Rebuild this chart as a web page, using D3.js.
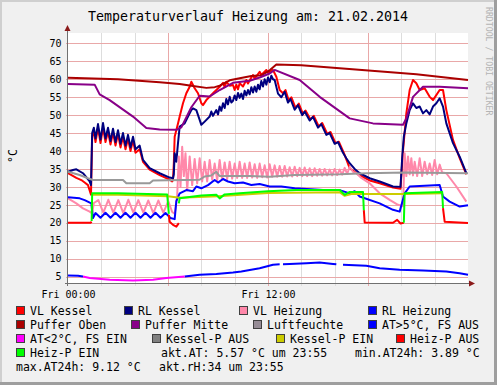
<!DOCTYPE html>
<html>
<head>
<meta charset="utf-8">
<script src="https://cdnjs.cloudflare.com/ajax/libs/d3/7.8.5/d3.min.js"></script>
<style>
body { margin: 0; background: #f0f0f0; }
svg { display: block; }
text { font-family: 'DejaVu Sans Mono', monospace; fill: #000; }
</style>
</head>
<body>
<svg id="canvas" width="497" height="385"></svg>
<script>
'use strict';

// hours since Fri 00:00, value
var vlKessel = [
  [0,33.8],[0.5,32.5],[0.8,31.9],[1.0,31.2],[1.2,30.5],[1.38,27.8],[1.45,44],[1.55,45.5],[1.65,42.5],
  [1.8,46.5],[1.95,42.2],[2.1,46.5],[2.25,42.5],[2.4,45.5],[2.55,41.8],[2.7,45.2],[2.85,41.5],[3.0,44.8],
  [3.15,41],[3.3,44],[3.45,40.5],[3.6,43.5],[3.75,40],[3.9,43],[4.05,39.5],[4.3,40.5],[4.5,37],[4.9,34.8],
  [5.5,33.3],[6.1,32],[6.25,31.5],[6.3,31.9],[6.35,36.6],[6.4,44.0],[6.6,47.7],[6.7,49.6],[6.9,53.3],
  [7.1,56.1],[7.3,57.9],[7.4,59.3],[7.6,57.5],[7.8,56.1],[8.0,53.3],[8.1,52.8],[8.3,54.2],[8.7,56.1],
  [9.1,57.9],[9.3,59],[9.4,57.8],[9.5,59.3],[9.7,58.2],[9.9,58.4],[10.0,57],[10.1,58.5],[10.2,57.2],
  [10.3,58.9],[10.5,58],[10.7,59.8],[10.8,58.8],[11.0,60.5],[11.1,61.2],[11.2,60.2],[11.5,62.1],
  [11.6,61.2],[11.9,62.6],[12.0,61.8],[12.3,62.6],[12.5,60.7],[12.7,57],[12.9,56.1],[13.05,57],
  [13.25,54],[13.4,55],[13.65,52],[13.85,53.2],[14.1,50.3],[14.25,51.3],[14.55,48.8],[14.75,49.8],
  [15.05,46.8],[15.25,47.8],[15.55,44.8],[15.75,45.3],[16.05,42.2],[16.25,42.6],[16.55,39.5],[16.9,35.2],
  [17.5,33.2],[18.1,31.8],[18.7,31.0],[19.5,29.8],[19.95,29.5],[20.1,40],[20.3,50.5],[20.5,57.0],
  [20.7,59.8],[20.9,58.9],[21.1,57.0],[21.4,57.5],[21.7,55.1],[21.9,54.2],[22.3,57.0],[22.5,57.0],
  [22.7,51.4],[23.1,43.1],[23.5,38],[23.9,33.5]
];
var rlKessel = [
  [0,34.2],[0.3,34.7],[0.5,34.9],[0.9,33.8],[1.3,31.5],[1.38,30.5],[1.45,45],[1.55,46.5],[1.65,43.5],
  [1.8,47.5],[1.95,43.2],[2.1,47.8],[2.25,43.5],[2.4,46.5],[2.55,42.8],[2.7,46.2],[2.85,42.5],[3.0,45.8],
  [3.15,42],[3.3,45],[3.45,41.5],[3.6,44.5],[3.75,41],[3.9,44],[4.05,40.5],[4.3,41.5],[4.5,37.5],[4.9,35.2],
  [5.5,33.8],[6.1,32.6],[6.3,32.4],[6.35,33.5],[6.4,39.4],[6.5,37],[6.6,42.2],[6.7,46.8],[7.0,47.7],
  [7.2,49.6],[7.4,51.4],[7.5,51.9],[7.7,51.4],[7.9,48.7],[8.0,47.3],[8.2,48.2],[8.5,49.6],[8.6,51],
  [8.7,49.8],[8.9,51.4],[9.0,50.2],[9.1,52.4],[9.2,51.2],[9.3,53.3],[9.4,52],[9.5,54.5],[9.6,53],
  [9.7,55.1],[9.8,53.5],[9.9,54.0],[10.0,55.5],[10.1,54.2],[10.2,56.2],[10.3,54.8],[10.4,56],[10.5,54.5],
  [10.6,56.8],[10.7,55.5],[10.8,57],[10.9,55.8],[11.0,57.8],[11.1,56.3],[11.2,58],[11.3,56.5],[11.4,58.5],
  [11.5,57.2],[11.6,59.5],[11.7,58],[11.8,60],[11.9,58.5],[12.0,60.5],[12.1,59.2],[12.2,61],[12.3,60],
  [12.4,59.8],[12.6,56],[12.8,55],[13.0,56.5],[13.2,53.5],[13.35,54.5],[13.6,51.5],[13.8,52.8],
  [14.05,50],[14.2,51],[14.5,48.5],[14.7,49.5],[15.0,46.5],[15.2,47.5],[15.5,44.5],[15.7,45],[16.0,42],
  [16.2,42.5],[16.5,39.5],[16.7,38],[16.9,36.6],[17.2,35],[17.5,33.8],[18.1,32.4],[18.7,31.5],[19.5,30.1],
  [19.95,30.0],[20.05,38],[20.15,44],[20.3,47.7],[20.5,51.4],[20.7,53.3],[20.9,52.0],[21.1,52.4],
  [21.3,50.5],[21.5,51.4],[21.7,50.2],[21.9,52.4],[22.1,53.3],[22.3,54.7],[22.5,52.4],[22.7,47.7],
  [23.1,42.2],[23.5,38.4],[23.9,33.8]
];
var vlHeizung = [
  [0,26.8],[0.5,25.4],[0.9,24.0],[1.3,23.1],[1.45,22.6],[1.55,25.5],[1.82,26.3],[2.12,22.8],[2.42,26.4],
  [2.72,22.8],[3.02,26.3],[3.32,22.7],[3.62,26.4],[3.92,22.8],[4.22,26.3],[4.52,22.8],[4.82,26.2],
  [5.12,22.7],[5.42,26.2],[5.72,22.8],[6.02,26.0],[6.25,23.0],[6.4,22.5],[6.55,27.5],[6.65,38.5],
  [6.75,30],[6.85,41.2],[6.95,33],[7.05,39.4],[7.15,29],[7.3,38.5],[7.45,30.5],[7.6,37.8],[7.75,31],
  [7.9,38],[8.05,31.5],[8.2,37],[8.35,31.5],[8.5,37.5],[8.65,32],[8.8,36.5],[8.95,31.8],[9.1,37.5],
  [9.25,32],[9.4,36.8],[9.55,32.2],[9.7,37],[9.85,32.3],[10.0,36.5],[10.15,32.5],[10.3,37],[10.45,32.5],
  [10.6,36.5],[10.75,32.5],[10.9,36.8],[11.05,32.6],[11.2,36.3],[11.35,32.5],[11.5,36.5],[11.65,32.7],
  [11.8,36],[11.95,32.6],[12.1,36.3],[12.25,32.8],[12.4,36],[12.55,32.8],[12.7,35.8],[12.85,32.8],
  [13.0,35.8],[13.15,32.9],[13.3,35.5],[13.45,32.9],[13.6,35.6],[13.75,33],[13.9,35.3],[14.05,33],
  [14.2,35.4],[14.35,33],[14.5,35.2],[14.65,33],[14.8,35.2],[14.95,33.1],[15.1,35],[15.25,33.1],
  [15.4,35],[15.55,33.2],[15.7,34.8],[15.85,33.2],[16.0,35],[16.15,33.3],[16.3,34.8],[16.45,33.4],
  [16.6,35.3],[16.75,33.6],[16.9,35.6],[17.1,34.2],[17.3,33.8],[17.6,32.5],[18.1,31.0],[18.7,28.2],
  [19.3,26.4],[19.8,25.0],[20.1,24.6],[20.2,39.4],[20.3,33],[20.4,38.5],[20.5,33.5],[20.6,38],[20.7,33.2],
  [20.8,37],[20.95,33],[21.1,38],[21.25,33],[21.4,37],[21.55,33.5],[21.7,36.5],[21.85,33.3],[22.0,37.5],
  [22.15,33.5],[22.3,36.2],[22.45,34],[22.7,33.8],[23.3,30.1],[23.9,25.9]
];
var rlHeizung = [
  [0,27.1],[0.7,26.8],[1.0,26.3],[1.4,25.4],[1.5,21.3],[1.65,22.7],[1.95,21.4],[2.25,22.8],[2.55,21.4],
  [2.85,22.8],[3.15,21.4],[3.45,22.8],[3.75,21.4],[4.05,22.8],[4.35,21.4],[4.65,22.8],[4.95,21.4],
  [5.25,22.8],[5.55,21.4],[5.85,22.7],[6.15,21.3],[6.4,21.0],[6.5,26],[6.7,28.2],[7.1,29.1],[7.5,28.8],
  [7.7,30.1],[8.0,29.6],[8.4,30.5],[8.8,31.9],[9.0,31.2],[9.3,32.2],[9.6,31.5],[10.0,31.0],[10.5,31.2],
  [11.0,30.5],[11.5,30.8],[12.1,30.1],[12.8,30.1],[13.6,29.6],[15.3,29.1],[16.3,29.1],[16.9,28.2],
  [17.2,28.8],[17.5,27.3],[18.7,25.4],[19.5,23.6],[19.9,23.1],[20.2,28.2],[20.5,30.1],[22.3,30.5],
  [22.5,27.3],[22.9,25.9],[23.5,24.5],[24,24.9]
];
var pufferOben = [
  [0,60.4],[3,60.0],[5.5,59.2],[6.7,58.7],[7.5,58.1],[8.3,57.6],[8.8,57.8],[9.1,58.2],[9.7,59.7],
  [10.3,60.3],[11,60.9],[11.6,61.1],[12.1,62.5],[12.5,64.1],[14,63.9],[20.9,61.4],[24,59.8]
];
var pufferMitte = [
  [0,58.7],[1.6,58.5],[1.9,55.8],[2.5,54.2],[3.9,49.6],[4.7,46.4],[5.5,46.0],[6.5,45.9],[6.8,46.6],
  [7.4,52.2],[7.9,55.4],[8.5,55.2],[9.1,57.0],[9.9,59.0],[10.9,59.6],[11.5,60.5],[12.1,61.6],[12.4,62.6],
  [13.9,59.8],[15.1,55.1],[16.9,49.1],[18.3,47.7],[20.1,47.3],[20.3,49.1],[20.7,55.1],[21.3,57.9],
  [22.3,57.9],[24,57.5]
];
var luftfeuchte = [
  [0,34.2],[0.7,33.3],[1.2,32.4],[1.5,31.9],[3.3,31.9],[3.5,31.0],[4.9,31.0],[5.1,31.8],[7.9,32.0],
  [8.2,32.9],[8.6,33.2],[8.9,34.2],[9.1,33.0],[10.9,33.0],[12.1,32.8],[13.6,33.3],[16.3,33.5],
  [17.9,33.8],[20.3,34.0],[24,33.8]
];
var atWarm = [
  [0,5.3],[0.6,5.2],[0.9,5.0],[0.95,null],[7.0,5.0],[7.9,5.5],[8.9,5.7],[9.9,6.1],[10.4,6.4],[11.5,7.3],
  [12.3,8.3],[12.7,8.4],[12.75,null],[12.9,8.4],[13.3,8.5],[14.3,8.7],[15.1,8.9],[15.9,8.5],[16.1,8.4],
  [16.15,null],[16.5,8.3],[17.9,8.0],[18.7,7.3],[19.9,6.9],[21.3,6.7],[22.7,6.4],[23.5,5.9],[24,5.5]
];
var atCold = [
  [0.9,5.0],[1.3,4.6],[2.5,4.1],[3.9,3.9],[5.1,4.1],[5.9,4.6],[7.0,5.0]
];
var kesselPAus = [];
var kesselPEin = [
  [1.45,27.8],[3,27.8],[6.0,27.4],[6.7,27.0],[9,27.4],[12,28.3],[16.3,28.5],[16.6,27.5],[17,28.0],
  [20.3,28.0],[22.5,28.2]
];
var heizPEin = [
  [1.42,20.5],[1.45,28.2],[3,28.2],[5.95,27.9],[6.05,22.5],[6.1,null],[6.65,25.4],[6.7,26.8],[8,27.6],
  [8.9,27.8],[9.1,26.8],[9.4,27.9],[10.3,28.2],[12,28.8],[13.7,29.1],[16.3,29.1],[16.6,27.8],[16.9,28.6],
  [17.7,28.6],[17.75,23.5],[17.8,null],[20.15,20.0],[20.2,28.2],[22.45,28.6],[22.5,24.1],[22.55,null]
];
var heizPAus = [
  [0,20],[1.35,20],[1.42,20.3],[1.43,null],[6.05,22.2],[6.1,20.3],[6.3,19.4],[6.5,18.9],[6.65,19.9],
  [6.66,null],[17.75,23.5],[17.8,20.1],[19.5,20.0],[19.75,20.8],[19.95,19.8],[20.15,20.0],[20.2,null],
  [22.5,24.1],[22.6,20.3],[24,19.9]
];

var yTickValues = [5, 10, 15, 20, 25, 30, 35, 40, 45, 50, 55, 60, 65, 70];
var xTickHours = [0, 12];
var xTickLabels = ['Fri 00:00', 'Fri 12:00'];

var legendLabels = ['VL Kessel', 'RL Kessel', 'VL Heizung', 'RL Heizung', 'Puffer Oben', 'Puffer Mitte',
  'Luftfeuchte', 'AT>5°C, FS AUS', 'AT<2°C, FS EIN', 'Kessel-P AUS', 'Kessel-P EIN', 'Heiz-P AUS',
  'Heiz-P EIN'];
var legendNotes = ['akt.AT: 5.57 °C um 23:55', 'min.AT24h: 3.89 °C', 'max.AT24h: 9.12 °C',
  'akt.rH:34 um 23:55'];
var titleText = 'Temperaturverlauf Heizung am: 21.02.2014';

function GetSeries() {
  return [
    {data: vlKessel, color: '#ff0000'},
    {data: rlKessel, color: '#000080'},
    {data: vlHeizung, color: '#ff88aa'},
    {data: rlHeizung, color: '#0000ff'},
    {data: pufferOben, color: '#aa0000'},
    {data: pufferMitte, color: '#880088'},
    {data: luftfeuchte, color: '#999999'},
    {data: atWarm, color: '#0000ff'},
    {data: atCold, color: '#ff00ff'},
    {data: kesselPAus, color: '#808080'},
    {data: kesselPEin, color: '#cccc00'},
    {data: heizPAus, color: '#ff0000'},
    {data: heizPEin, color: '#00ff00'},
  ];
}

function GetLegendColors() {
  return ['#ff0000', '#000080', '#ff88aa', '#0000ff', '#aa0000', '#880088', '#968c96', '#0000ff',
    '#ff00ff', '#808080', '#cccc00', '#ff0000', '#00ff00'];
}

function RenderFrame(svg) {
  svg.append('rect').attr('width', 497).attr('height', 385).attr('fill', '#f0f0f0');
  svg.append('rect').attr('x', 0).attr('y', 0).attr('width', 497).attr('height', 2).attr('fill', '#cfcfcf');
  svg.append('rect').attr('x', 0).attr('y', 0).attr('width', 2).attr('height', 385).attr('fill', '#cfcfcf');
  svg.append('rect').attr('x', 494).attr('y', 0).attr('width', 3).attr('height', 385).attr('fill', '#9e9e9e');
  svg.append('rect').attr('x', 0).attr('y', 382).attr('width', 497).attr('height', 3).attr('fill', '#9e9e9e');
}

function RenderGraph() {
  var svg = d3.select('#canvas');
  RenderFrame(svg);

  var x = d3.scaleLinear().domain([0, 24]).range([68, 468]);
  var y = d3.scaleLinear().domain([3.2, 72.9]).range([283, 33]);
  var px = function(v) { return Math.round(v) + 0.5; };

  svg.append('rect')
      .attr('x', 68).attr('y', 33).attr('width', 400).attr('height', 250)
      .attr('fill', '#ffffff');

  // vertical grid, every 2 hours, major every 6
  var grid = svg.append('g');
  grid.selectAll('line.v')
      .data(d3.range(2, 24, 2))
    .enter().append('line')
      .attr('x1', function(h) { return px(x(h)); })
      .attr('x2', function(h) { return px(x(h)); })
      .attr('y1', 33).attr('y2', 286)
      .attr('stroke', function(h) { return h % 6 === 0 ? '#e9a8a8' : '#dddddd'; })
      .attr('stroke-width', 1);
  grid.selectAll('line.h')
      .data(yTickValues)
    .enter().append('line')
      .attr('x1', 66).attr('x2', 468)
      .attr('y1', function(v) { return px(y(v)); })
      .attr('y2', function(v) { return px(y(v)); })
      .attr('stroke', '#e9a8a8')
      .attr('stroke-width', 1);

  var line = d3.line()
      .defined(function(d) { return d[1] !== null; })
      .x(function(d) { return x(d[0]); })
      .y(function(d) { return y(d[1]); });

  svg.append('g').selectAll('path')
      .data(GetSeries())
    .enter().append('path')
      .attr('d', function(s) { return line(s.data); })
      .attr('fill', 'none')
      .attr('stroke', function(s) { return s.color; })
      .attr('stroke-width', 2)
      .attr('stroke-linejoin', 'round');

  // axes
  var yAxis = svg.append('g')
      .attr('transform', 'translate(67.5,0)')
      .call(d3.axisLeft(y).tickValues(yTickValues).tickSize(0).tickPadding(6));
  yAxis.select('.domain').remove();
  yAxis.selectAll('text')
      .attr('font-family', "'DejaVu Sans Mono', monospace")
      .attr('font-size', 10);

  var xAxis = svg.append('g')
      .attr('transform', 'translate(0,283)')
      .call(d3.axisBottom(x).tickValues(xTickHours)
        .tickFormat(function(h, i) { return xTickLabels[i]; })
        .tickSize(0).tickPadding(8));
  xAxis.select('.domain').remove();
  xAxis.selectAll('text')
      .attr('font-family', "'DejaVu Sans Mono', monospace")
      .attr('font-size', 10);

  svg.append('line').attr('x1', 67.5).attr('x2', 67.5).attr('y1', 30).attr('y2', 286)
      .attr('stroke', '#707070');
  svg.append('line').attr('x1', 65).attr('x2', 470).attr('y1', 283.5).attr('y2', 283.5)
      .attr('stroke', '#707070');
  svg.append('path').attr('d', 'M64.5,31 L70.5,31 L67.5,25 Z').attr('fill', '#8b1a1a');
  svg.append('path').attr('d', 'M469,280.5 L469,286.5 L475,283.5 Z').attr('fill', '#8b1a1a');

  // titles
  svg.append('text')
      .attr('x', 248).attr('y', 21)
      .attr('text-anchor', 'middle')
      .attr('font-size', 13.3)
      .text(titleText);
  svg.append('text')
      .attr('transform', 'translate(17,156) rotate(-90)')
      .attr('text-anchor', 'middle')
      .attr('font-size', 11.5)
      .text('°C');
  svg.append('text')
      .attr('transform', 'translate(486,7) rotate(90)')
      .attr('font-size', 8.2)
      .style('fill', '#b4b4b4')
      .text('RRDTOOL / TOBI OETIKER');

  RenderLegend(svg);
}

function RenderLegend(svg) {
  // [row, x of swatch] for each legend entry, as the rrdtool layout justifies them
  var slots = [[0, 16], [0, 124], [0, 239], [0, 368],
               [1, 16], [1, 131], [1, 253], [1, 368],
               [2, 16], [2, 152], [2, 276], [2, 396],
               [3, 16]];
  var noteSlots = [[3, 161], [3, 355], [4, 16], [4, 159]];
  var rowY = function(r) { return 311 + r * 14; };
  var colors = GetLegendColors();

  var item = svg.append('g').selectAll('g')
      .data(legendLabels)
    .enter().append('g')
      .attr('transform', function(d, i) {
        return 'translate(' + slots[i][1] + ',' + rowY(slots[i][0]) + ')';
      });
  item.append('rect')
      .attr('x', 0.5).attr('y', -4.5).attr('width', 8).attr('height', 8)
      .attr('fill', function(d, i) { return colors[i]; })
      .attr('stroke', '#404040').attr('stroke-width', 1);
  item.append('text')
      .attr('x', 14).attr('y', 4)
      .attr('font-size', 11.5)
      .text(function(d) { return d; });

  svg.append('g').selectAll('text')
      .data(legendNotes)
    .enter().append('text')
      .attr('x', function(d, i) { return noteSlots[i][1]; })
      .attr('y', function(d, i) { return rowY(noteSlots[i][0]) + 4; })
      .attr('font-size', 11.5)
      .text(function(d) { return d; });
}

RenderGraph();
</script>
</body>
</html>
